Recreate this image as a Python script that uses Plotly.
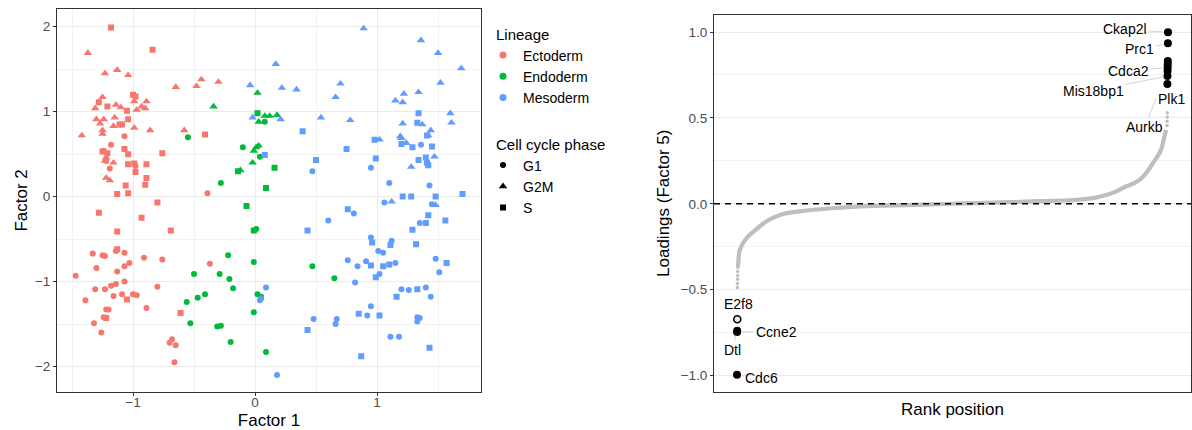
import plotly.graph_objects as go

# ---------------- Left panel data: factor scores ----------------
ecto_g1_x = [-1.07, -1.18, -1.24, -1.22, -1.19, -0.98, -0.39, -1.33, -1.25, -1.23, -1.14, -1.07, -1.30, -1.13,
             -1.07, -1.03, -0.91, -0.76, -0.37, -1.47, -1.14, -1.07, -1.18, -1.31, -1.23, -0.80, -1.16, -1.09,
             -1.00, -0.97, -1.39, -0.89, -1.22, -1.20, -1.24, -1.32, -1.26, -0.68, -0.70, -0.65, -0.66]
ecto_g1_y = [0.71, 0.61, 0.54, 0.42, 0.33, 0.36, 0.04, -0.67, -0.69, -0.70, -0.64, -0.66, -0.84, -0.88,
             -0.82, -0.78, -0.72, -0.74, -0.79, -0.93, -1.03, -1.00, -1.05, -1.09, -1.09, -1.06, -1.17, -1.15,
             -1.15, -1.16, -1.22, -1.31, -1.33, -1.33, -1.42, -1.49, -1.60, -1.68, -1.72, -1.75, -1.95]

ecto_g2m_x = [-1.37, -1.23, -1.13, -1.04, -0.65, -0.48, -0.44, -0.30, -1.25, -1.31, -1.14, -1.10, -0.99, -0.97,
              -0.89, -0.93, -0.90, -1.30, -1.24, -1.27, -1.15, -1.16, -1.25, -1.25, -1.42, -0.99, -0.86, -0.58,
              -1.22, -1.16, -1.22, -1.19, -1.23]
ecto_g2m_y = [1.69, 1.45, 1.49, 1.43, 1.29, 1.30, 1.38, 1.35, 1.17, 1.04, 1.08, 1.05, 1.12, 1.02,
              1.12, 1.06, 1.04, 0.91, 0.91, 0.86, 0.93, 0.83, 0.78, 0.74, 0.72, 0.81, 0.78, 0.78,
              0.46, 0.40, 0.22, 0.19, 0.42]

ecto_s_x = [-1.18, -0.84, -1.28, -1.21, -1.05, -1.00, -0.98, -1.04, -1.09, -1.11, -0.41, -1.25, -1.21, -1.07,
            -1.04, -0.76, -1.04, -0.99, -0.98, -0.89, -0.89, -1.06, -0.90, -1.13, -1.04, -0.80, -1.28, -0.93,
            -1.13, -0.69, -1.13, -1.05, -0.61, -1.22]
ecto_s_y = [1.99, 1.73, 1.11, 1.06, 1.01, 1.20, 1.18, 0.91, 0.85, 0.85, 0.73, 0.53, 0.51, 0.56,
            0.50, 0.51, 0.38, 0.39, 0.29, 0.38, 0.22, 0.13, 0.14, 0.03, 0.04, -0.07, -0.19, -0.25,
            -0.41, -0.40, -0.62, -1.21, -1.37, -1.43]

endo_g1_x = [-0.55, -0.10, -0.28, 0.08, 0.04, -0.22, -0.50, -0.29, -0.21, -0.18, -0.56, -0.47, -0.41, -0.53,
             -0.31, -0.28, -0.20, 0.01, -0.01, 0.47, 0.65, 0.02, 0.05, -0.01, 0.09]
endo_g1_y = [0.70, 0.58, 0.16, 0.88, 0.47, -0.69, -0.91, -0.91, -0.97, -1.08, -1.24, -1.19, -1.15, -1.49,
             -1.53, -1.52, -1.71, -0.38, -0.77, -0.82, -0.96, -1.15, -1.18, -1.36, -1.83]

endo_g2m_x = [-0.34, -0.12, 0.02, 0.08, 0.12, 0.18, 0.03, 0.03, 0.01, -0.01, -0.02]
endo_g2m_y = [1.06, 0.31, 1.22, 0.95, 0.95, 0.96, 0.88, 0.60, 0.58, 0.54, 0.40]

endo_s_x = [-0.14, -0.07, 0.02, 0.16, 0.09, -0.01]
endo_s_y = [0.30, -0.11, 0.98, 0.34, 0.10, -0.40]

meso_g1_x = [1.36, 0.47, 0.95, 1.10, 1.43, 1.06, 1.45, 0.81, 0.60, 1.35, 0.95, 1.12, 1.01, 1.05,
             0.76, 0.84, 0.91, 1.15, 1.02, 1.48, 1.51, 0.82, 0.09, 0.04, 0.05, 1.20, 1.26, 1.40,
             1.44, 0.95, 0.92, 1.33, 1.35, 1.33, 0.48, 0.67, 0.66, 1.11, 1.18, 0.18]
meso_g1_y = [0.61, 0.30, 0.34, 0.16, 0.13, -0.07, -0.09, -0.20, -0.28, -0.31, -0.48, -0.52, -0.64, -0.66,
             -0.75, -0.82, -0.76, -0.78, -0.91, -0.73, -0.89, -1.01, -1.07, -1.22, -1.20, -1.09, -1.10, -1.07,
             -1.18, -1.29, -1.40, -1.42, -1.43, -1.47, -1.44, -1.44, -1.50, -1.65, -1.65, -2.10]

meso_g2m_x = [0.89, 1.36, 1.50, 1.69, 1.52, 0.17, -0.04, 0.22, 0.34, 0.70, 0.66, 1.22, 1.34, 1.15,
              1.21, 1.60, 1.61, -0.02, 0.21, 0.54, 0.78, 1.21, 1.37, 1.44, 1.19, 1.02, 1.24, 1.42,
              1.47, 1.28, 1.12, 1.48, 1.20]
meso_g2m_y = [1.98, 1.84, 1.69, 1.51, 1.34, 1.56, 1.31, 1.28, 1.26, 1.33, 1.17, 1.21, 1.23, 1.13,
              1.11, 0.98, 0.87, 0.93, 0.91, 0.93, 0.90, 0.86, 0.85, 0.78, 0.71, 0.67, 0.63, 0.72,
              0.47, 0.35, -0.06, -0.10, 0.69]

meso_s_x = [1.34, 1.33, 1.41, 0.39, 0.98, 1.20, 1.29, 1.45, 0.08, 0.75, 0.99, 1.40, 1.34, 1.42,
            1.41, 0.50, 1.21, 1.28, 1.48, 1.70, 0.76, 1.42, 0.43, 0.96, 1.11, 1.29, 1.40, 1.56,
            1.32, 1.57, 0.95, 1.05, 1.10, 0.99, 1.33, 1.16, 0.85, 1.02, 0.43, 1.43, 0.87]
meso_s_y = [0.98, 0.87, 0.72, 0.77, 0.67, 0.62, 0.58, 0.59, 0.49, 0.56, 0.45, 0.46, 0.43, 0.37,
            0.40, 0.43, 0.00, 0.00, 0.00, 0.03, -0.15, -0.22, -0.40, -0.54, -0.57, -0.39, -0.31, -0.28,
            -0.56, -0.78, -0.81, -0.82, -0.80, -0.95, -1.09, -1.18, -1.38, -1.40, -1.57, -1.78, -1.88]

lineages = ["Ectoderm", "Endoderm", "Mesoderm"]
phases = ["G1", "G2M", "S"]

# ---------------- Right panel data: loadings by rank ----------------
bg_rank = [11, 16, 20, 28, 50, 82, 130, 198, 280, 372, 450, 546, 700, 894, 1100, 1277, 1600, 2054,
           2470, 2800, 3167, 3515, 3800, 3979, 4150, 4292, 4400, 4478, 4600, 4675, 4740, 4791, 4850,
           4907, 4935, 4954, 4977]
bg_loading = [-0.365, -0.34, -0.31, -0.28, -0.25, -0.22, -0.19, -0.16, -0.125, -0.093, -0.075, -0.058,
              -0.046, -0.035, -0.026, -0.019, -0.012, -0.006, 0.0, 0.004, 0.009, 0.015, 0.019, 0.024,
              0.034, 0.052, 0.072, 0.093, 0.118, 0.14, 0.175, 0.21, 0.255, 0.30, 0.34, 0.38, 0.43]
tail_rank = [5, 6, 7, 8, 9, 10, 4989, 4990, 4991, 4992]
tail_loading = [-0.487, -0.464, -0.44, -0.417, -0.394, -0.37, 0.455, 0.48, 0.505, 0.53]

hl_rank = [1, 2, 3, 4, 4993, 4994, 4995, 4996, 4997, 4998, 4999, 5000]
hl_loading = [-0.995, -0.746, -0.74, -0.672, 0.698, 0.744, 0.773, 0.792, 0.812, 0.831, 0.934, 0.998]
hl_gene = ["Cdc6", "Ccne2", "Dtl", "E2f8", "Plk1", "Mis18bp1", "Aurkb", "Cdca2", "", "", "Prc1", "Ckap2l"]

# ---------------- Styling ----------------
FONT = "Liberation Sans, Arial, Helvetica, sans-serif"
colors = {"Ectoderm": "#F8766D", "Endoderm": "#00BA38", "Mesoderm": "#619CFF"}
symbols = {"G1": "circle", "G2M": "triangle-up", "S": "square"}
sizes = {"G1": 6, "G2M": 7.5, "S": 6}

groups = {
    ("Ectoderm", "G1"): (ecto_g1_x, ecto_g1_y),
    ("Ectoderm", "G2M"): (ecto_g2m_x, ecto_g2m_y),
    ("Ectoderm", "S"): (ecto_s_x, ecto_s_y),
    ("Endoderm", "G1"): (endo_g1_x, endo_g1_y),
    ("Endoderm", "G2M"): (endo_g2m_x, endo_g2m_y),
    ("Endoderm", "S"): (endo_s_x, endo_s_y),
    ("Mesoderm", "G1"): (meso_g1_x, meso_g1_y),
    ("Mesoderm", "G2M"): (meso_g2m_x, meso_g2m_y),
    ("Mesoderm", "S"): (meso_s_x, meso_s_y),
}

fig = go.Figure()

for (lin, ph), (xs, ys) in groups.items():
    fig.add_trace(go.Scatter(
        x=xs, y=ys, mode="markers", xaxis="x", yaxis="y", showlegend=False,
        marker=dict(color=colors[lin], symbol=symbols[ph], size=sizes[ph], line=dict(width=0), opacity=1),
        hoverinfo="skip"))

# legend entries (two legends: colour and shape)
for lin in lineages:
    fig.add_trace(go.Scatter(
        x=[None], y=[None], mode="markers", xaxis="x", yaxis="y", name=lin, legend="legend",
        marker=dict(color=colors[lin], symbol="circle", size=7)))
for ph in phases:
    fig.add_trace(go.Scatter(
        x=[None], y=[None], mode="markers", xaxis="x", yaxis="y", name=ph, legend="legend2",
        marker=dict(color="black", symbol=symbols[ph], size=sizes[ph])))

# right panel
fig.add_trace(go.Scatter(
    x=bg_rank, y=bg_loading, mode="lines", xaxis="x2", yaxis="y2", showlegend=False,
    line=dict(color="#BEBEBE", width=4.2, shape="spline", smoothing=0.6), hoverinfo="skip"))
fig.add_trace(go.Scatter(
    x=tail_rank, y=tail_loading, mode="markers", xaxis="x2", yaxis="y2", showlegend=False,
    marker=dict(color="#BEBEBE", size=3.5, opacity=1), hoverinfo="skip"))

hl_fill = ["#EEEEEE" if g == "E2f8" else "black" for g in hl_gene]
hl_lw = [1.6 if g == "E2f8" else 0 for g in hl_gene]
hl_size = [7 if g == "E2f8" else 8 for g in hl_gene]
fig.add_trace(go.Scatter(
    x=hl_rank, y=hl_loading, mode="markers", xaxis="x2", yaxis="y2", showlegend=False,
    marker=dict(color=hl_fill, size=hl_size, opacity=1, line=dict(color="black", width=hl_lw)),
    hoverinfo="skip"))

label_offsets = {
    "Cdc6": (24, 3), "Ccne2": (39, 0), "Dtl": (-5, 19), "E2f8": (1, -15),
    "Plk1": (4, 15), "Mis18bp1": (-74, 15), "Aurkb": (-23, 56), "Cdca2": (-39, 3),
    "Prc1": (-28, 6), "Ckap2l": (-43, -3),
}
label_standoff = {"Aurkb": 30}

annotations = []
for r, v, g in zip(hl_rank, hl_loading, hl_gene):
    if not g:
        continue
    ax, ay = label_offsets[g]
    annotations.append(dict(
        x=r, y=v, xref="x2", yref="y2", text=g, showarrow=True, ax=ax, ay=ay,
        arrowhead=0, arrowwidth=0.8, arrowcolor="#C8C8C8", standoff=label_standoff.get(g, 5),
        font=dict(size=14, color="black", family=FONT)))

axis_common = dict(
    showline=True, mirror=True, linecolor="#333333", linewidth=1, zeroline=False,
    ticks="outside", ticklen=3, tickcolor="#333333", tickfont=dict(size=13.5, color="#4D4D4D"),
    gridcolor="#EBEBEB", gridwidth=1, title_font=dict(size=17, color="black"))

legend_common = dict(
    xanchor="left", yanchor="top", font=dict(size=14, color="black"),
    bgcolor="rgba(0,0,0,0)", itemsizing="trace", indentation=-11)

fig.update_layout(
    width=1192, height=430, margin=dict(l=0, r=0, t=0, b=0),
    paper_bgcolor="white", plot_bgcolor="white",
    font=dict(family=FONT, color="black"),
    xaxis=dict(domain=[57 / 1192, 481 / 1192], range=[-1.623, 1.852], dtick=1, tick0=0, anchor="y",
               minor=dict(dtick=0.5, tick0=0, showgrid=True, gridcolor="#F2F2F2", ticks=""),
               ticklabelstandoff=-5,
               title=dict(text="Factor 1", standoff=9), **axis_common),
    yaxis=dict(domain=[1 - 391.5 / 430, 1 - 9.3 / 430], range=[-2.294, 2.205], dtick=1, tick0=0, anchor="x",
               minor=dict(dtick=0.5, tick0=0, showgrid=True, gridcolor="#F2F2F2", ticks=""),
               title=dict(text="Factor 2", standoff=2), **axis_common),
    xaxis2=dict(domain=[714 / 1192, 1191 / 1192], range=[-266, 5267], anchor="y2",
                showline=True, mirror=True, linecolor="#333333", linewidth=1, zeroline=False,
                showgrid=False, showticklabels=False, ticks="",
                title=dict(text="Rank position", standoff=11, font=dict(size=17, color="black"))),
    yaxis2=dict(domain=[1 - 391.5 / 430, 1 - 15 / 430], range=[-1.093, 1.099], dtick=0.5, tick0=0,
                tickformat=".1f", anchor="x2",
                minor=dict(dtick=0.25, tick0=0, showgrid=True, gridcolor="#F2F2F2", ticks=""),
                title=dict(text="Loadings (Factor 5)", standoff=6), **axis_common),
    legend=dict(x=494 / 1192, y=1 - 20 / 430,
                title=dict(text="Lineage", font=dict(size=15, color="black")), **legend_common),
    legend2=dict(x=494 / 1192, y=1 - 130 / 430,
                 title=dict(text="Cell cycle phase", font=dict(size=15, color="black")), **legend_common),
    shapes=[dict(type="line", xref="x2 domain", yref="y2", x0=0, x1=1, y0=0, y1=0,
                 line=dict(color="black", width=1.5, dash="6px,5px"))],
    annotations=annotations,
)

fig.write_html("out.html")
